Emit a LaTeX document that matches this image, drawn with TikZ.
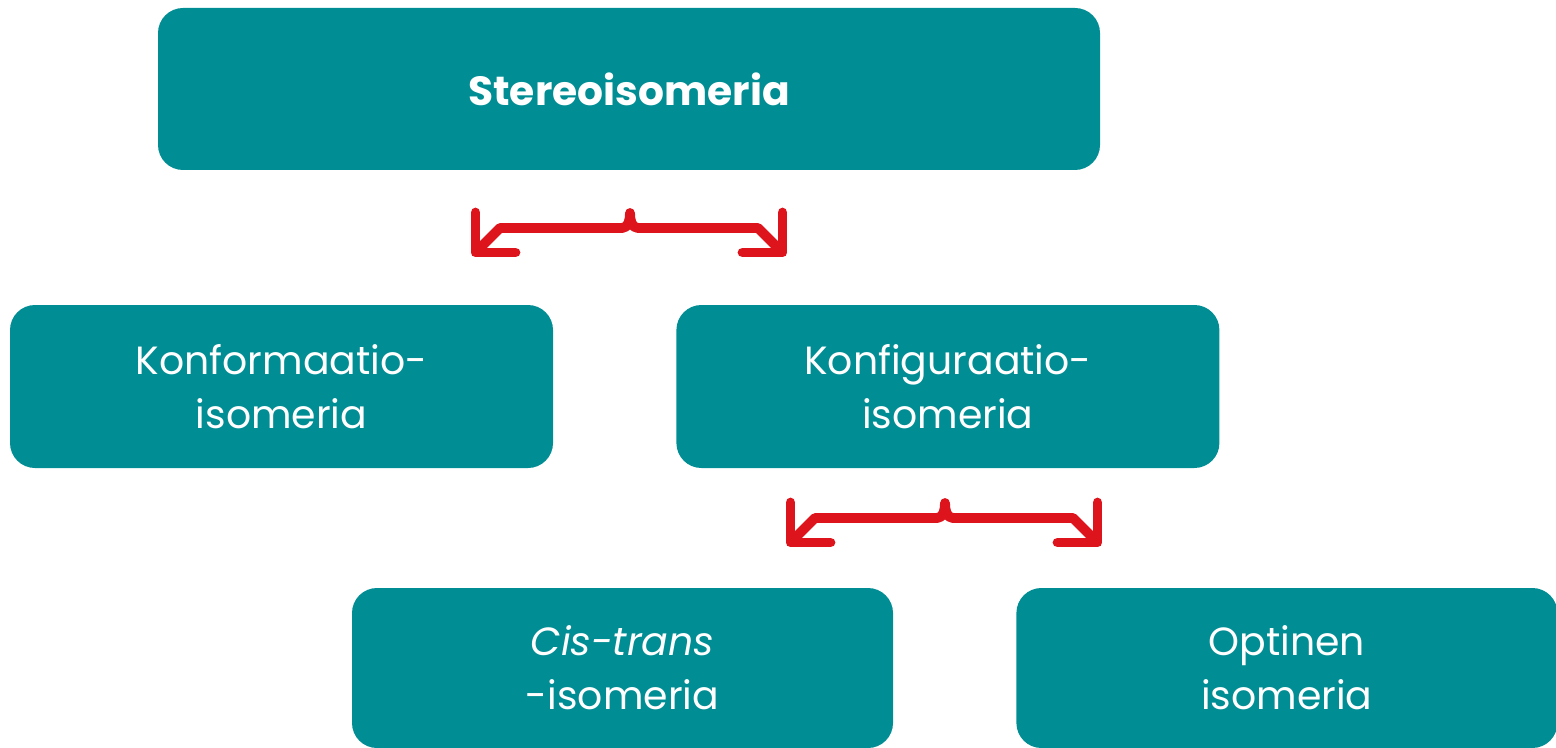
\documentclass[tikz,border=0pt]{standalone}
\usepackage{fontspec}
\setmainfont{Poppins}[Ligatures=NoCommon]
\usepackage{tikz}
\usetikzlibrary{
  arrows.meta
  , positioning
}
\definecolor{boxteal}{RGB}{0,142,148}
\definecolor{bracered}{RGB}{222,20,28}
\tikzset{
  box/.style={rectangle,
    rounded corners=0.25cm,
    fill=boxteal,
    text=white,
    minimum width=5.43cm,
    minimum height=1.63cm,
    inner sep=0pt,
    align=center,
    font=\fontsize{11.2}{15.4}\selectfont},
  brace/.style={draw=bracered,
    line width=2.8pt,
    line join=round,
    line cap=round,
    {Straight Barb[angle=90:4mm, round]}-{Straight Barb[angle=90:4mm, round]}}
}
\begin{document}
\begin{tikzpicture}
      \useasboundingbox (0,0) rectangle (15.56,-7.48);

      \node [box, minimum width=9.42cm, minimum height=1.62cm,
        font=\fontsize{11.6}{15.4}\selectfont\bfseries] (S) at (6.29,-0.89) {Stereoisomeria};

      \node [box] (Kfm) at (2.815,-3.865) {Konformaatio-\\isomeria};
      \node [box, right=1.22cm of Kfm] (Kfg) {Konfiguraatio-\\isomeria};

      \node [box, minimum width=5.41cm, minimum height=1.6cm] (CT) at (6.225,-6.68)
        {\textit{Cis-trans}\\-isomeria};
      \node [box, minimum width=5.41cm, minimum height=1.6cm,
        right=1.22cm of CT] (Opt) {Optinen\\isomeria};

      % braces
      \coordinate (b1) at (4.72,-2.56);
      \coordinate (p1) at (6.30,-2.13);
      \coordinate (b2) at (7.87,-5.46);
      \coordinate (p2) at (9.45,-5.03);

      \draw [brace] (b1) -- ++(0.28,0.28) -- ++(1.22,0)
        to [out=0, in=-90] (p1) to [out=-90, in=180] ++(0.08,-0.15)
        -- ++(1.20,0) -- ++(0.28,-0.28);
      \draw [brace] (b2) -- ++(0.28,0.28) -- ++(1.22,0)
        to [out=0, in=-90] (p2) to [out=-90, in=180] ++(0.08,-0.15)
        -- ++(1.20,0) -- ++(0.28,-0.28);
    \end{tikzpicture}
\end{document}
